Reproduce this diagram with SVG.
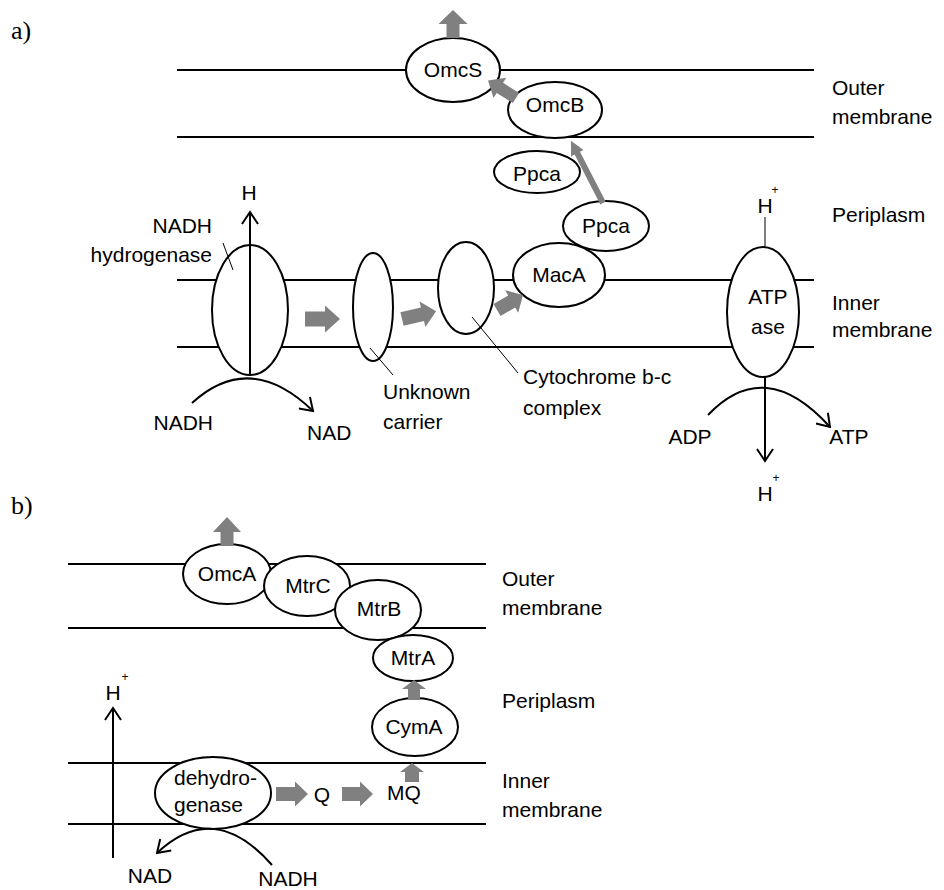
<svg xmlns="http://www.w3.org/2000/svg" width="944" height="890" viewBox="0 0 944 890">
<defs>
<style>
text{font-family:"Liberation Sans",Arial,sans-serif;font-size:21px;fill:#000}
.lab{font-family:"Liberation Serif","Times New Roman",serif;font-size:26px}
.mem{stroke:#000;stroke-width:2;fill:none}
.node{fill:#fff;stroke:#000;stroke-width:2}
.thin{stroke:#000;stroke-width:1;fill:none}
.line{stroke:#000;stroke-width:2;fill:none}
.blk{fill:#808080;stroke:none}
.sup{font-size:12px}
</style>
<marker id="v" viewBox="0 0 16 18" refX="14" refY="9" markerWidth="16" markerHeight="18" markerUnits="userSpaceOnUse" orient="auto">
<path d="M2,1 L14,9 L2,17" fill="none" stroke="#000" stroke-width="2"/>
</marker>
</defs>
<rect width="944" height="890" fill="#fff"/>

<text class="lab" x="11" y="39">a)</text>
<text class="lab" x="11" y="514">b)</text>

<g id="membranes">
<line class="mem" x1="177" y1="70" x2="814" y2="70"/>
<line class="mem" x1="177" y1="137" x2="814" y2="137"/>
<line class="mem" x1="177" y1="280" x2="814" y2="280"/>
<line class="mem" x1="177" y1="347" x2="814" y2="347"/>
<line class="mem" x1="68" y1="564" x2="486" y2="564"/>
<line class="mem" x1="68" y1="628" x2="486" y2="628"/>
<line class="mem" x1="68" y1="763" x2="486" y2="763"/>
<line class="mem" x1="68" y1="824" x2="486" y2="824"/>
</g>

<g id="region-labels">
<text x="832" y="95">Outer</text>
<text x="832" y="124">membrane</text>
<text x="832" y="222">Periplasm</text>
<text x="832" y="310">Inner</text>
<text x="832" y="337">membrane</text>
<text x="502" y="586">Outer</text>
<text x="502" y="615">membrane</text>
<text x="502" y="708">Periplasm</text>
<text x="502" y="788">Inner</text>
<text x="502" y="817">membrane</text>
</g>

<g id="node-omcs"><ellipse class="node" cx="453" cy="70" rx="47" ry="32"/><text x="453" y="77" text-anchor="middle">OmcS</text></g>
<g id="node-omcb"><ellipse class="node" cx="555" cy="110" rx="47" ry="28"/><text x="555" y="112" text-anchor="middle">OmcB</text></g>
<g id="node-ppca1"><ellipse class="node" cx="537" cy="172" rx="43" ry="21"/><text x="537" y="181" text-anchor="middle">Ppca</text></g>
<g id="node-ppca2"><ellipse class="node" cx="606" cy="226" rx="43" ry="25"/><text x="606" y="233" text-anchor="middle">Ppca</text></g>
<g id="node-maca"><ellipse class="node" cx="559" cy="275" rx="46" ry="32"/><text x="559" y="282" text-anchor="middle">MacA</text></g>
<g id="node-nadh-hydrogenase"><ellipse class="node" cx="250" cy="310" rx="38" ry="65"/>
<text x="212" y="233" text-anchor="end">NADH</text><text x="212" y="262" text-anchor="end">hydrogenase</text></g>
<g id="node-unknown-carrier"><ellipse class="node" cx="373" cy="307" rx="20" ry="54"/>
<text x="383" y="399">Unknown</text><text x="383" y="429">carrier</text></g>
<g id="node-cytochrome"><ellipse class="node" cx="466" cy="288" rx="28" ry="46"/>
<text x="523" y="384">Cytochrome b-c</text><text x="523" y="415">complex</text></g>
<g id="node-atpase"><ellipse class="node" cx="763" cy="312" rx="36" ry="65"/>
<text x="768" y="304" text-anchor="middle">ATP</text><text x="768" y="334" text-anchor="middle">ase</text></g>

<g id="species-a">
<text x="249" y="200" text-anchor="middle" font-size="20">H</text>
<text x="213" y="430" text-anchor="end">NADH</text>
<text x="307" y="440">NAD</text>
<text x="765" y="213" text-anchor="middle" font-size="20">H</text><text class="sup" x="775" y="194" text-anchor="middle">+</text>
<text x="690" y="444" text-anchor="middle">ADP</text>
<text x="849" y="444" text-anchor="middle">ATP</text>
<text x="765" y="501" text-anchor="middle" font-size="20">H</text><text class="sup" x="776" y="482" text-anchor="middle">+</text>
</g>

<g id="node-omca"><ellipse class="node" cx="227" cy="574" rx="44" ry="30"/><text x="227" y="581" text-anchor="middle">OmcA</text></g>
<g id="node-mtrc"><ellipse class="node" cx="307" cy="586" rx="43" ry="30"/><text x="308" y="593" text-anchor="middle">MtrC</text></g>
<g id="node-mtrb"><ellipse class="node" cx="378" cy="610" rx="43" ry="30"/><text x="379" y="616" text-anchor="middle">MtrB</text></g>
<g id="node-mtra"><ellipse class="node" cx="413" cy="658" rx="40" ry="23"/><text x="413" y="665" text-anchor="middle">MtrA</text></g>
<g id="node-cyma"><ellipse class="node" cx="415" cy="727" rx="43" ry="29"/><text x="414" y="734" text-anchor="middle">CymA</text></g>
<g id="node-dehydrogenase"><ellipse class="node" cx="213" cy="793" rx="58" ry="36"/>
<text x="174" y="785">dehydro-</text><text x="174" y="812">genase</text></g>

<g id="species-b">
<text x="322" y="802" text-anchor="middle">Q</text>
<text x="404" y="800" text-anchor="middle">MQ</text>
<text x="113" y="700" text-anchor="middle" font-size="20">H</text><text class="sup" x="125" y="681" text-anchor="middle">+</text>
<text x="150" y="883" text-anchor="middle">NAD</text>
<text x="288" y="886" text-anchor="middle">NADH</text>
</g>

<g id="connectors">
<line class="thin" x1="223" y1="243" x2="233" y2="270"/>
<line class="thin" x1="370" y1="348" x2="393" y2="375"/>
<line class="thin" x1="472" y1="317" x2="518" y2="373"/>
<line class="thin" x1="765" y1="247" x2="765" y2="217"/>
<line class="line" x1="250" y1="375" x2="250" y2="212" marker-end="url(#v)"/>
<path class="line" d="M192,403 Q250,350 313,411" marker-end="url(#v)"/>
<line class="line" x1="765" y1="377" x2="765" y2="461" marker-end="url(#v)"/>
<path class="line" d="M708,415 Q765,355 830,427" marker-end="url(#v)"/>
<line class="line" x1="113" y1="858" x2="113" y2="708" marker-end="url(#v)"/>
<path class="line" d="M272,865 Q214,799 157,853" marker-end="url(#v)"/>

<polygon class="blk" transform="translate(305,319)" points="0,-7.5 20,-7.5 20,-13.5 35,0 20,13.5 20,7.5 0,7.5"/>
<polygon class="blk" transform="translate(402,319) rotate(-13)" points="0,-7 21,-7 21,-13 35,0 21,13 21,7 0,7"/>
<polygon class="blk" transform="translate(497,310) rotate(-30)" points="0,-7 17,-7 17,-13 30,0 17,13 17,7 0,7"/>
<polygon class="blk" transform="translate(453,38) rotate(-90)" points="0,-6.5 14,-6.5 14,-14.5 28,0 14,14.5 14,6.5 0,6.5"/>
<polygon class="blk" transform="translate(516,98) rotate(-148)" points="0,-6 19,-6 19,-12 33,0 19,12 19,6 0,6"/>
<polygon class="blk" transform="translate(603,203) rotate(-117.3)" points="0,-3 56,-3 56,-7 70,0 56,7 56,3 0,3"/>

<polygon class="blk" transform="translate(227,546) rotate(-90)" points="0,-6.5 14,-6.5 14,-14 29,0 14,14 14,6.5 0,6.5"/>
<polygon class="blk" transform="translate(414,700) rotate(-90)" points="0,-6 11,-6 11,-12 20,0 11,12 11,6 0,6"/>
<polygon class="blk" transform="translate(412,782) rotate(-90)" points="0,-7 10,-7 10,-12 19,0 10,12 10,7 0,7"/>
<polygon class="blk" transform="translate(276,794)" points="0,-7 19,-7 19,-12.5 32,0 19,12.5 19,7 0,7"/>
<polygon class="blk" transform="translate(342,794)" points="0,-7 18,-7 18,-12.5 31,0 18,12.5 18,7 0,7"/>
</g>
</svg>
